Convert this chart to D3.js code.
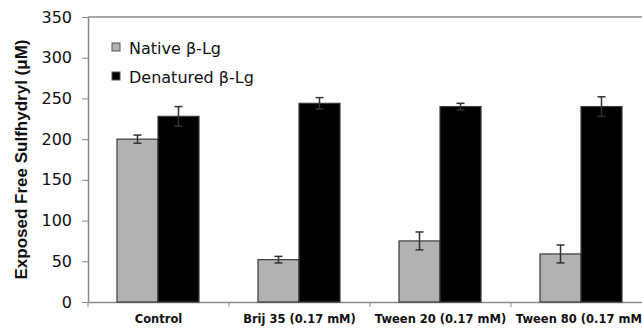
<!DOCTYPE html>
<html>
<head>
<meta charset="utf-8">
<script src="https://cdn.jsdelivr.net/npm/d3@7"></script>
<style>
  body { margin: 0; background: #fff; }
</style>
</head>
<body>
<svg id="svg" width="642" height="328"></svg>
<script>
const categories = ['Control', 'Brij 35 (0.17 mM)', 'Tween 20 (0.17 mM)', 'Tween 80 (0.17 mM)']
const seriesNames = ['Native β-Lg', 'Denatured β-Lg']
const nativeValues = [200, 52, 75, 59]
const nativeErrors = [5, 4, 11, 11]
const denaturedValues = [228, 244, 240, 240]
const denaturedErrors = [12, 7, 4, 12]
const yTicks = [0, 50, 100, 150, 200, 250, 300, 350]

const colours = ['#b2b2b2', '#000000']

const svg = d3.select('#svg')
const plotLeft = 88
const plotTop = 17
const plotBottom = 302
const catWidth = 141

const rows = categories.map((c, i) => ({
  cat: c,
  bars: [
    { key: seriesNames[0], value: nativeValues[i], err: nativeErrors[i] },
    { key: seriesNames[1], value: denaturedValues[i], err: denaturedErrors[i] }
  ]
}))

const x0 = d3.scaleBand()
  .domain(categories)
  .range([plotLeft, plotLeft + catWidth * categories.length])

const x1 = d3.scaleBand()
  .domain(seriesNames)
  .range([29, 111])

const y = d3.scaleLinear()
  .domain([0, 350])
  .range([plotBottom, plotTop])

const colourScale = d3.scaleOrdinal(seriesNames, colours)

// top frame line
svg.append('line')
  .attr('x1', plotLeft).attr('x2', 642)
  .attr('y1', y(350)).attr('y2', y(350))
  .attr('stroke', '#8a8a8a')
  .attr('stroke-width', 1.5)

// y axis
const yAxis = svg.append('g')
  .attr('transform', `translate(${plotLeft},0)`)
  .call(d3.axisLeft(y).tickValues(yTicks).tickSize(6).tickPadding(10).tickSizeOuter(0))
yAxis.select('.domain').attr('stroke', '#8a8a8a').attr('stroke-width', 1.5)
yAxis.selectAll('.tick line').attr('stroke', '#8a8a8a')
yAxis.selectAll('.tick text')
  .style('font-family', '"DejaVu Sans", sans-serif')
  .style('font-size', '16px')
  .attr('fill', '#111')

// x axis
const xAxis = svg.append('g')
  .attr('transform', `translate(0,${plotBottom})`)
  .call(d3.axisBottom(x0).tickSize(0).tickPadding(13).tickSizeOuter(0))
xAxis.select('.domain').attr('stroke', '#8a8a8a').attr('stroke-width', 1.5)
xAxis.selectAll('.tick text')
  .style('font-family', '"DejaVu Sans", sans-serif')
  .style('font-weight', 'bold')
  .style('font-size', '11.5px')
  .attr('fill', '#111')

// category separators
svg.append('g')
  .selectAll('line')
  .data(categories)
  .join('line')
  .attr('x1', d => x0(d)).attr('x2', d => x0(d))
  .attr('y1', plotBottom).attr('y2', plotBottom + 5)
  .attr('stroke', '#8a8a8a')

// bars
const groups = svg.append('g')
  .selectAll('g')
  .data(rows)
  .join('g')
  .attr('transform', d => `translate(${x0(d.cat)},0)`)

groups.selectAll('rect')
  .data(d => d.bars)
  .join('rect')
  .attr('x', d => x1(d.key))
  .attr('y', d => y(d.value))
  .attr('width', x1.bandwidth())
  .attr('height', d => y(0) - y(d.value))
  .attr('fill', d => colourScale(d.key))
  .attr('stroke', '#3a3a3a')
  .attr('stroke-width', 1.2)

// error bars
const errs = groups.selectAll('g.err')
  .data(d => d.bars)
  .join('g')
  .attr('class', 'err')
  .attr('transform', d => `translate(${x1(d.key) + x1.bandwidth() / 2},0)`)
  .attr('stroke', '#333')
  .attr('stroke-width', 1.5)

errs.append('line')
  .attr('y1', d => y(d.value + d.err))
  .attr('y2', d => y(d.value - d.err))
errs.append('line')
  .attr('x1', -4).attr('x2', 4)
  .attr('y1', d => y(d.value + d.err))
  .attr('y2', d => y(d.value + d.err))
errs.append('line')
  .attr('x1', -4).attr('x2', 4)
  .attr('y1', d => y(d.value - d.err))
  .attr('y2', d => y(d.value - d.err))

// legend
const legend = svg.append('g')
  .selectAll('g')
  .data(seriesNames)
  .join('g')
  .attr('transform', (d, i) => `translate(112,${43 + i * 29})`)

legend.append('rect')
  .attr('width', 8).attr('height', 8)
  .attr('fill', d => colourScale(d))
  .attr('stroke', '#555')

legend.append('text')
  .text(d => d)
  .attr('x', 17)
  .attr('y', 11)
  .style('font-family', '"DejaVu Sans", sans-serif')
  .style('font-size', '16px')
  .attr('fill', '#111')

// y title
svg.append('text')
  .text('Exposed Free Sulfhydryl (μM)')
  .attr('transform', `translate(27,${(plotTop + plotBottom) / 2}) rotate(-90)`)
  .style('text-anchor', 'middle')
  .style('font-family', '"Liberation Sans", Arial, sans-serif')
  .style('font-weight', 'bold')
  .style('font-size', '17px')
  .attr('fill', '#111')
</script>
</body>
</html>
